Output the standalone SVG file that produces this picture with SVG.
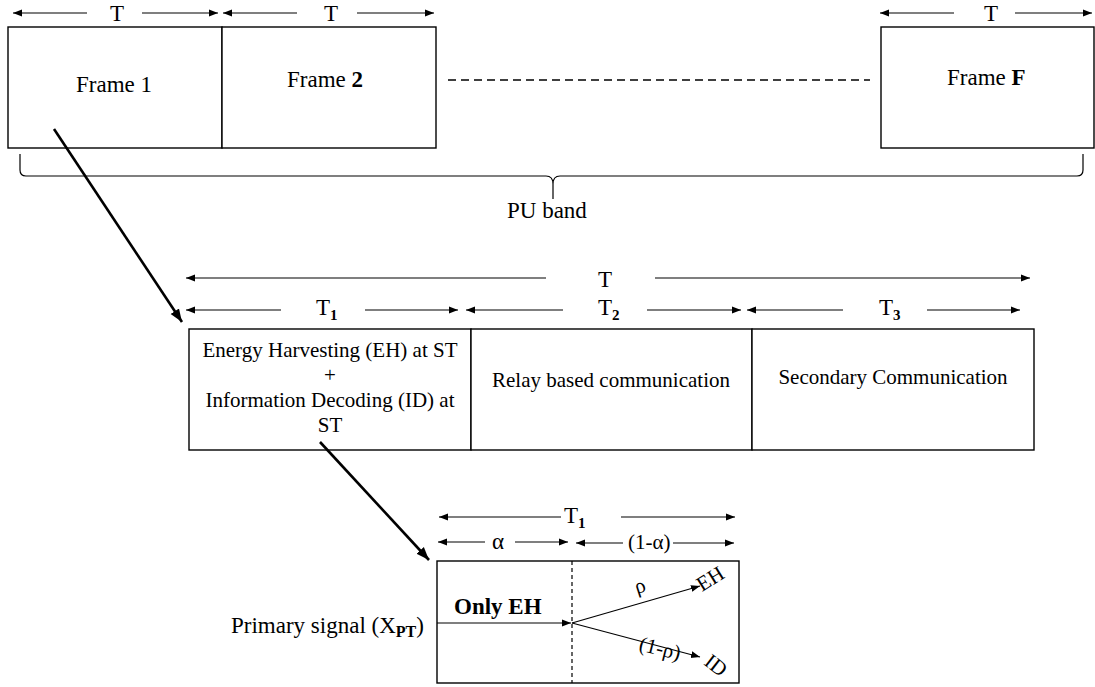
<svg xmlns="http://www.w3.org/2000/svg" width="1095" height="687" viewBox="0 0 1095 687" font-family="'Liberation Serif', 'DejaVu Serif', serif">
<defs>
<marker id="ah" markerUnits="userSpaceOnUse" markerWidth="10" markerHeight="8" refX="9" refY="4" orient="auto">
<path d="M0,0.5 L9,4 L0,7.5 z" fill="#000"/>
</marker>
<marker id="ahb" markerUnits="userSpaceOnUse" markerWidth="14" markerHeight="12" refX="13" refY="6" orient="auto">
<path d="M0,1 L13,6 L0,11 z" fill="#000"/>
</marker>
<style>
text{font-family:'Liberation Serif','DejaVu Serif',serif;fill:#000}
.t{font-size:21px}
.f{font-size:23px}
.m{font-size:23px}
.lbl{font-size:23px}
.box{fill:#fff;stroke:#000;stroke-width:1.4}
.dim{stroke:#000;stroke-width:1.2;fill:none;marker-end:url(#ah)}
.big{stroke:#000;stroke-width:2.6;fill:none;marker-end:url(#ahb)}
.sub{font-size:15px;font-weight:bold}
.sub2{font-size:16px;font-weight:bold}
</style>
</defs>
<rect width="1095" height="687" fill="#fff"/>

<g id="frame1">
<rect class="box" x="8" y="27" width="214" height="121"/>
<text class="f" x="76" y="92">Frame 1</text>
</g>
<g id="frame2">
<rect class="box" x="222" y="27" width="214" height="121"/>
<text class="f" x="287" y="87">Frame <tspan font-weight="bold">2</tspan></text>
</g>
<g id="frameF">
<rect class="box" x="881" y="27" width="213" height="121"/>
<text class="f" x="947" y="85">Frame <tspan font-weight="bold">F</tspan></text>
</g>
<g id="dots">
<line x1="448" y1="80" x2="870" y2="80" stroke="#000" stroke-width="1.5" stroke-dasharray="8 5"/>
</g>

<g id="top-dims">
<line class="dim" x1="87" y1="13" x2="13" y2="13"/>
<line class="dim" x1="142" y1="13" x2="218" y2="13"/>
<text class="lbl" x="110" y="21">T</text>
<line class="dim" x1="297" y1="13" x2="223" y2="13"/>
<line class="dim" x1="357" y1="13" x2="434" y2="13"/>
<text class="lbl" x="324" y="21">T</text>
<line class="dim" x1="954" y1="13" x2="880" y2="13"/>
<line class="dim" x1="1015" y1="13" x2="1092" y2="13"/>
<text class="lbl" x="984" y="21">T</text>
</g>

<g id="brace">
<path d="M20,154 L20,170 Q20,176 26,176 L546,176 Q553,176 553,184 L553,199 M553,184 Q553,176 560,176 L1077,176 Q1083,176 1083,170 L1083,154" fill="none" stroke="#000" stroke-width="1.2"/>
<text class="m" x="507" y="218">PU band</text>
</g>

<g id="mid-dims">
<line class="dim" x1="546" y1="278" x2="186" y2="278"/>
<line class="dim" x1="655" y1="278" x2="1030" y2="278"/>
<text class="lbl" x="598" y="287">T</text>
<line class="dim" x1="281" y1="310" x2="186" y2="310"/>
<line class="dim" x1="365" y1="310" x2="458" y2="310" stroke-width="2"/>
<text class="lbl" x="316" y="315">T<tspan class="sub" dy="5">1</tspan></text>
<line class="dim" x1="563" y1="310" x2="466" y2="310"/>
<line class="dim" x1="647" y1="310" x2="741" y2="310"/>
<text class="lbl" x="598" y="315">T<tspan class="sub" dy="5">2</tspan></text>
<line class="dim" x1="843" y1="310" x2="747" y2="310"/>
<line class="dim" x1="927" y1="310" x2="1020" y2="310"/>
<text class="lbl" x="879" y="315">T<tspan class="sub" dy="5">3</tspan></text>
</g>

<g id="slot1">
<rect class="box" x="189" y="329" width="282" height="121"/>
<text class="t" text-anchor="middle" x="330" y="357">Energy Harvesting (EH) at ST</text>
<text class="t" text-anchor="middle" x="330" y="382">+</text>
<text class="t" text-anchor="middle" x="330" y="407">Information Decoding (ID) at</text>
<text class="t" text-anchor="middle" x="330" y="432">ST</text>
</g>
<g id="slot2">
<rect class="box" x="471" y="329" width="281" height="121"/>
<text class="t" text-anchor="middle" x="611" y="387">Relay based communication</text>
</g>
<g id="slot3">
<rect class="box" x="752" y="329" width="282" height="121"/>
<text class="t" text-anchor="middle" x="893" y="384">Secondary Communication</text>
</g>

<g id="bottom-dims">
<line class="dim" x1="561" y1="517" x2="439" y2="517"/>
<line class="dim" x1="621" y1="517" x2="735" y2="517"/>
<text class="lbl" x="564" y="523">T<tspan class="sub" dy="5">1</tspan></text>
<line class="dim" x1="485" y1="542" x2="438" y2="542"/>
<line class="dim" x1="515" y1="542" x2="568" y2="542"/>
<text class="m" x="492" y="549">α</text>
<line class="dim" x1="623" y1="543" x2="576" y2="543"/>
<line class="dim" x1="673" y1="543" x2="734" y2="543"/>
<text class="t" x="628" y="549">(1-α)</text>
</g>

<g id="splitter">
<rect class="box" x="437" y="561" width="302" height="122"/>
<line x1="572" y1="561" x2="572" y2="683" stroke="#000" stroke-width="1.2" stroke-dasharray="4 3"/>
<text class="m" x="454" y="614" font-weight="bold">Only EH</text>
<text class="m" x="231" y="633">Primary signal (X<tspan class="sub2" dy="4">PT</tspan><tspan dy="-4">)</tspan></text>
</g>

<g id="connectors">
<line class="big" x1="54" y1="129" x2="182" y2="322"/>
<line class="big" x1="320" y1="442" x2="429" y2="560"/>
<line class="dim" x1="437" y1="623" x2="571" y2="623" stroke-width="1.8"/>
<line class="dim" x1="572" y1="623" x2="700" y2="586"/>
<line class="dim" x1="572" y1="623" x2="700" y2="657"/>
<text class="t" transform="translate(637,594) rotate(-18)">ρ</text>
<text class="t" transform="translate(702,592) rotate(-32)">EH</text>
<text class="t" transform="translate(638,650) rotate(14)">(1-ρ)</text>
<text class="t" transform="translate(703,664) rotate(38)">ID</text>
</g>
</svg>
